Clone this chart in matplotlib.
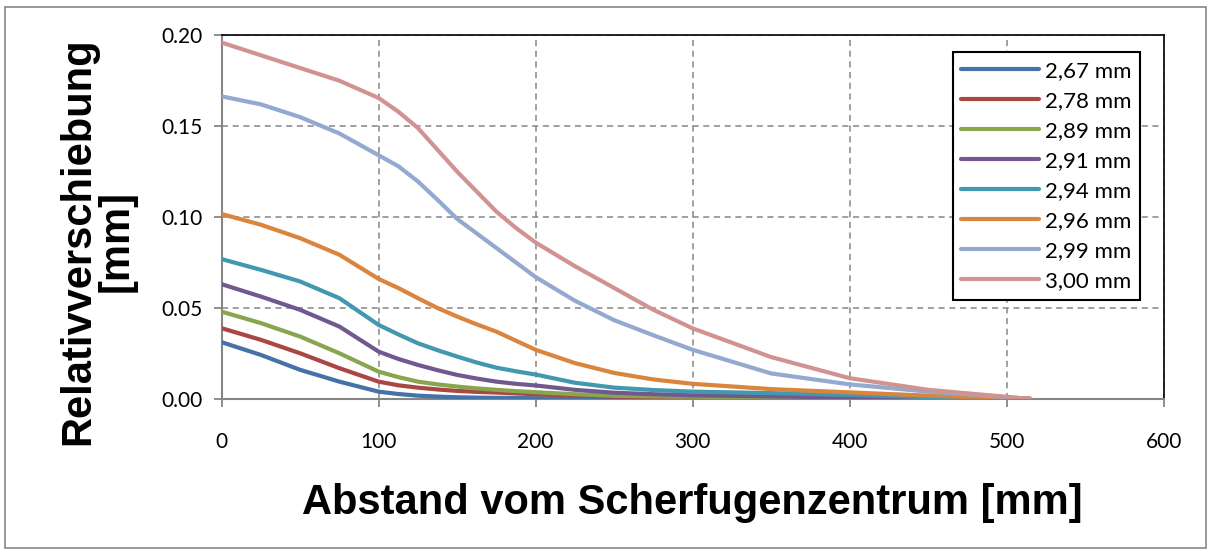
import numpy as np
import matplotlib
matplotlib.use("Agg")
import matplotlib.pyplot as plt
from matplotlib.patches import Rectangle

# distance from centre of shear joint [mm]
abstand = [0, 25, 50, 75, 100, 112.5, 125, 137.5, 150, 162.5, 175, 187.5, 200,
           225, 250, 275, 300, 350, 400, 450, 515]

labels = ['2,67 mm', '2,78 mm', '2,89 mm', '2,91 mm', '2,94 mm', '2,96 mm', '2,99 mm', '3,00 mm']

s267 = [0.0312, 0.0242, 0.016, 0.0095, 0.004, 0.0027, 0.0018, 0.0013, 0.0009, 0.0007, 0.0006, 0.0005, 0.0004,
        0.0003, 0.0002, 0.0001, 0.0001, 0.0, 0.0, 0.0, 0.0]
s278 = [0.0389, 0.0325, 0.0251, 0.0169, 0.0095, 0.0075, 0.0062, 0.0052, 0.0044, 0.0039, 0.0035, 0.003, 0.0026,
        0.0019, 0.0013, 0.001, 0.0008, 0.0005, 0.0002, 0.0001, 0.0]
s289 = [0.048, 0.0417, 0.0343, 0.0251, 0.015, 0.012, 0.0095, 0.008, 0.0068, 0.0058, 0.005, 0.0043, 0.0037,
        0.0026, 0.0017, 0.0014, 0.0012, 0.0008, 0.0005, 0.0002, 0.0]
s291 = [0.0631, 0.0563, 0.049, 0.0398, 0.026, 0.022, 0.0187, 0.0158, 0.0132, 0.0112, 0.0095, 0.0083, 0.0074,
        0.005, 0.0034, 0.0026, 0.002, 0.0014, 0.0008, 0.0004, 0.0]
s294 = [0.0769, 0.071, 0.0646, 0.0554, 0.0407, 0.0355, 0.0306, 0.0268, 0.0233, 0.020, 0.0172, 0.0152, 0.0134,
        0.0089, 0.0062, 0.0049, 0.004, 0.0032, 0.0022, 0.001, 0.0]
s296 = [0.1017, 0.0958, 0.0884, 0.0793, 0.066, 0.061, 0.0554, 0.050, 0.0453, 0.041, 0.037, 0.032, 0.027,
        0.0197, 0.0143, 0.0107, 0.0083, 0.0054, 0.0036, 0.0018, 0.0]
s299 = [0.1664, 0.162, 0.155, 0.146, 0.134, 0.128, 0.1196, 0.1095, 0.099, 0.091, 0.083, 0.075, 0.067,
        0.054, 0.0433, 0.035, 0.027, 0.014, 0.008, 0.004, 0.0]
s300 = [0.196, 0.189, 0.182, 0.175, 0.1655, 0.158, 0.149, 0.137, 0.125, 0.114, 0.103, 0.094, 0.086,
        0.073, 0.061, 0.049, 0.0388, 0.023, 0.0114, 0.005, 0.0]

series = [s267, s278, s289, s291, s294, s296, s299, s300]
colors = ['#4572A7', '#AA4643', '#89A54E', '#71588F', '#4198AF', '#DB843D', '#93A9CF', '#D19392']

xticks = [0, 100, 200, 300, 400, 500, 600]
yticks = [0.0, 0.05, 0.10, 0.15, 0.20]

GRAY = '#868686'

fig = plt.figure(figsize=(12.11, 5.51), dpi=100)
ax = fig.add_axes([0.183, 0.276, 0.778, 0.660])

for vals, c, l in zip(series, colors, labels):
    ax.plot(abstand, vals, color=c, lw=3.0, label=l, solid_capstyle='round',
            solid_joinstyle='round', zorder=3)

ax.set_xlim(0, 600)
ax.set_ylim(0, 0.2)
ax.set_xticks(xticks)
ax.set_yticks(yticks)
ax.set_yticklabels([f"{v:.2f}" for v in yticks])
ax.grid(True, color=GRAY, ls=(0, (4, 3)), lw=1.1, zorder=1)

for lab in ax.get_xticklabels() + ax.get_yticklabels():
    lab.set_family('Lato')
    lab.set_fontsize(15)
ax.tick_params(axis='x', direction='out', length=6, width=1.3, color=GRAY, pad=18)
ax.tick_params(axis='y', direction='out', length=6, width=1.3, color=GRAY, pad=8)

ax.spines['left'].set_color(GRAY)
ax.spines['bottom'].set_color(GRAY)
ax.spines['left'].set_linewidth(1.5)
ax.spines['bottom'].set_linewidth(1.5)
ax.spines['top'].set_color('black')
ax.spines['right'].set_color('black')
ax.spines['top'].set_linewidth(1.2)
ax.spines['right'].set_linewidth(1.2)

ax.set_xlabel("Abstand vom Scherfugenzentrum [mm]", family='Liberation Sans',
              fontweight='bold', fontsize=30, va='center')
ax.xaxis.set_label_coords(0.5, -0.286)
ax.set_ylabel("Relativverschiebung\n[mm]", family='Liberation Sans',
              fontweight='bold', fontsize=30, va='center', linespacing=0.95)
ax.yaxis.set_label_coords(-0.132, 0.435)

leg = ax.legend(loc='upper right', bbox_to_anchor=(0.975, 0.953), borderaxespad=0,
                fancybox=False, edgecolor='black', framealpha=1,
                prop={'family': 'Lato', 'size': 16},
                handlelength=3.5, handletextpad=0.25, labelspacing=0.45, borderpad=0.4)
leg.get_frame().set_linewidth(1.5)

# outer chart border
fig.patches.append(Rectangle((0.004, 0.005), 0.992, 0.982, transform=fig.transFigure,
                             fill=False, edgecolor=GRAY, lw=1.2))

plt.savefig("out.png", dpi=100)
